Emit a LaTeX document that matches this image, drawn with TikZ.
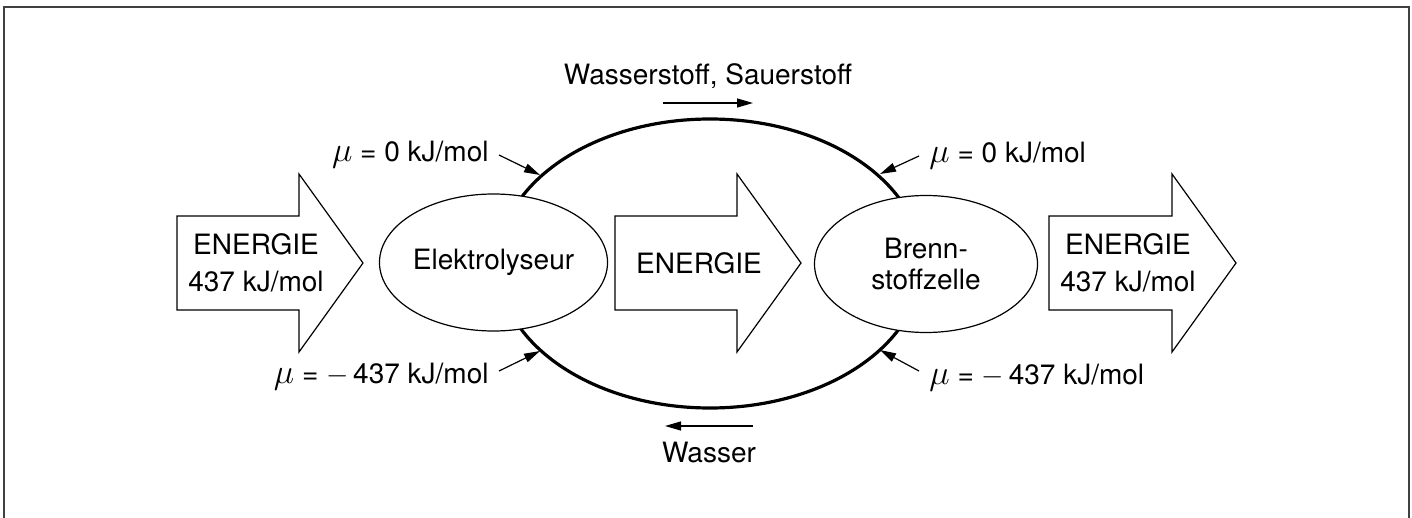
\documentclass[tikz,border=0pt]{standalone}
\usepackage{fontspec}
\setmainfont{TeX Gyre Heros}
\usetikzlibrary{arrows.meta,shapes.geometric}
\newcommand{\potmu}{{\fontsize{17}{17}\selectfont$\mu$}}
\tikzset{
  rahmen/.style={draw=black!75, line width=1pt},
  kreislauf/.style={line width=1.6pt},
  blockpfeil/.style={draw, line width=0.6pt, line join=miter},
  zelle/.style={ellipse, draw, fill=white, line width=0.6pt, inner sep=0pt,
    minimum width=111.5pt, minimum height=68.5pt, align=center},
  pfeil/.style={line width=0.6pt, -{Triangle[length=8pt,width=4.5pt]}},
  mulabel/.style={inner sep=5pt},
  every node/.style={font=\fontsize{14}{15.5}\selectfont}
}
\begin{document}
\begin{tikzpicture}[x=0.5pt,y=-0.5pt]
\useasboundingbox (0,0) rectangle (1412,518);
\draw[rahmen] (4,518) -- (4,7) -- (1409,7) -- (1409,518);

% Kreislauf zwischen den Zellen
\draw[kreislauf] (710,263.5) ellipse [x radius=212, y radius=144.5];

% Energiepfeile
\draw[blockpfeil] (177,216) -- (299,216) -- (299,174) -- (363,263) -- (299,352) -- (299,310) -- (177,310) -- cycle;
\draw[blockpfeil] (615,216) -- (737,216) -- (737,174) -- (801,263) -- (737,352) -- (737,310) -- (615,310) -- cycle;
\draw[blockpfeil] (1049,216) -- (1172,216) -- (1172,174) -- (1236,263) -- (1172,352) -- (1172,310) -- (1049,310) -- cycle;
\node[align=center, font=\fontsize{14}{18.5}\selectfont] (ein) at (256,263) {ENERGIE\\437 kJ/mol};
\node (mitte) at (699,263) {ENERGIE};
\node[align=center, font=\fontsize{14}{18.5}\selectfont] (aus) at (1128,263) {ENERGIE\\437 kJ/mol};

% Zellen
\node[zelle] (elektrolyseur) at (493.5,262.5) {Elektrolyseur};
\node[zelle] (brennstoffzelle) at (926,264) {Brenn-\\stoffzelle};

% Stoffstroeme
\node (gase) at (708,76) {Wasserstoff, Sauerstoff};
\coordinate (g1) at (663,103);
\coordinate (g2) at (753,103);
\draw[pfeil] (g1) -- (g2);
\node (wasser) at (709,453) {Wasser};
\coordinate (w1) at (753,426);
\coordinate (w2) at (665,426);
\draw[pfeil] (w1) -- (w2);

% chemische Potentiale
\coordinate (k1) at (540,175);
\coordinate (k2) at (880,174);
\coordinate (k3) at (540,351);
\coordinate (k4) at (880,350);
\node[mulabel, anchor=east] (mulo) at (499,155) {\potmu{} = 0 kJ/mol};
\node[mulabel, anchor=west] (muro) at (919,156) {\potmu{} = 0 kJ/mol};
\node[mulabel, anchor=east] (mulu) at (499,377) {\potmu{} = $-$\,437 kJ/mol};
\node[mulabel, anchor=west] (muru) at (919,378) {\potmu{} = $-$\,437 kJ/mol};
\draw[pfeil] (mulo.east) -- (k1);
\draw[pfeil] (muro.west) -- (k2);
\draw[pfeil] ([yshift=3pt]mulu.east) -- (k3);
\draw[pfeil] ([yshift=3.5pt]muru.west) -- (k4);
\end{tikzpicture}
\end{document}
